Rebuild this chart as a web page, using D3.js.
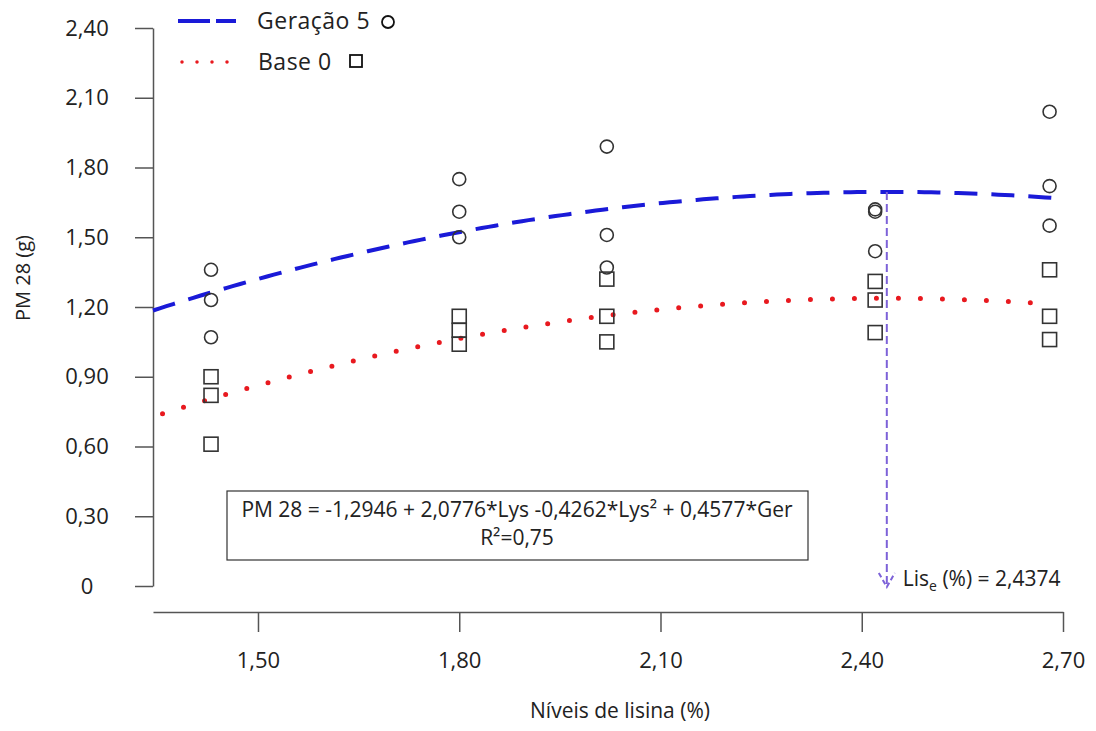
<!DOCTYPE html>
<html>
<head>
<meta charset="utf-8">
<script src="https://cdn.jsdelivr.net/npm/d3@7"></script>
<style>
  body { margin: 0; background: #fff; }
  svg { display: block; font-family: "Open Sans", sans-serif; }
</style>
</head>
<body>
<svg id="chart" width="1096" height="731"></svg>
<script>
"use strict";

const lysineLevels = [1.43, 1.80, 2.02, 2.42, 2.68];
const ger5Values = [[1.36, 1.23, 1.07], [1.75, 1.61, 1.50], [1.89, 1.51, 1.37], [1.62, 1.61, 1.44], [2.04, 1.72, 1.55]];
const base0Values = [[0.90, 0.82, 0.61], [1.16, 1.10, 1.04], [1.32, 1.16, 1.05], [1.31, 1.23, 1.09], [1.36, 1.16, 1.06]];

// fitted model printed in the box
const coefIntercept = -1.2946;
const coefLys = 2.0776;
const coefLys2 = -0.4262;
const coefGer = 0.4577;
const curveRange = [1.3435, 2.69];

const xTicks = [1.5, 1.8, 2.1, 2.4, 2.7];
const yTicks = [0, 0.3, 0.6, 0.9, 1.2, 1.5, 1.8, 2.1, 2.4];

const ptBR = d3.formatLocale({decimal: ",", thousands: ".", grouping: [3], currency: ["R$", ""]});
const fmt2 = ptBR.format(".2f");

const svg = d3.select("#chart");
const FONT = '"Open Sans", sans-serif';

const xScale = d3.scaleLinear().domain([1.3435, 2.7]).range([153, 1063]);
const yScale = d3.scaleLinear().domain([0, 2.4]).range([586, 28]);

function model(lys, ger) {
    return coefIntercept + coefLys * lys + coefLys2 * lys * lys + coefGer * ger;
}
const lysOptimum = -coefLys / (2 * coefLys2);

// axes
const xAxis = d3.axisBottom(xScale).tickValues(xTicks).tickFormat(fmt2)
    .tickSizeInner(20).tickSizeOuter(0);
const gx = svg.append("g").attr("transform", "translate(0,612)").call(xAxis)
    .attr("font-family", FONT).attr("font-size", 22);
gx.selectAll("path, line").attr("stroke", "#555").attr("stroke-width", 1.5);
gx.selectAll("text").attr("fill", "#222").attr("y", 48).attr("dy", "0.35em");

const yAxis = d3.axisLeft(yScale).tickValues(yTicks)
    .tickFormat(d => d === 0 ? "0" : fmt2(d))
    .tickSizeInner(18).tickSizeOuter(0);
const gy = svg.append("g").attr("transform", "translate(153,0)").call(yAxis)
    .attr("font-family", FONT).attr("font-size", 22);
gy.selectAll("path, line").attr("stroke", "#555").attr("stroke-width", 1.5);
gy.selectAll("text").attr("fill", "#222").attr("text-anchor", "middle").attr("x", -66);

// axis titles
svg.append("text").attr("x", 620).attr("y", 718).attr("text-anchor", "middle")
    .attr("fill", "#222").style("font-size", "21px").text("Níveis de lisina (%)");
svg.append("text").attr("transform", "translate(30,278) rotate(-90)")
    .attr("text-anchor", "middle").attr("fill", "#222").style("font-size", "20px")
    .text("PM 28 (g)");

// fitted curves
const curveXs = d3.range(curveRange[0], curveRange[1] + 0.0001, 0.01);
const line = d3.line().x(d => xScale(d[0])).y(d => yScale(d[1]));

svg.append("path")
    .attr("d", line(curveXs.map(l => [l, model(l, 0)])))
    .attr("fill", "none").attr("stroke", "#e8191f").attr("stroke-width", 5)
    .attr("stroke-linecap", "round").attr("stroke-dasharray", "0,22")
    .attr("stroke-dashoffset", -10);

svg.append("path")
    .attr("d", line(curveXs.map(l => [l, model(l, 1)])))
    .attr("fill", "none").attr("stroke", "#1a1ad8").attr("stroke-width", 4)
    .attr("stroke-dasharray", "23,14");

// optimum marker
const optX = xScale(lysOptimum);
const optTop = yScale(model(lysOptimum, 1));
const optBottom = yScale(0) + 1;
const purple = "#7d62d8";
svg.append("line").attr("x1", optX).attr("x2", optX).attr("y1", optTop).attr("y2", optBottom)
    .attr("stroke", purple).attr("stroke-width", 2).attr("stroke-dasharray", "8,4");
svg.append("path")
    .attr("d", `M${optX - 8},${optBottom - 14}L${optX},${optBottom}L${optX + 8},${optBottom - 14}`)
    .attr("fill", "none").attr("stroke", purple).attr("stroke-width", 2)
    .attr("stroke-dasharray", "5,3");

const optLabel = svg.append("text").attr("x", optX + 16).attr("y", 586)
    .attr("fill", "#222").style("font-size", "21px");
optLabel.append("tspan").text("Lis");
optLabel.append("tspan").attr("dy", 5).style("font-size", "14px").text("e");
optLabel.append("tspan").attr("dy", -5).text(" (%) = " + ptBR.format(".4f")(lysOptimum));

// observations
const markColor = "#333";
const ger5Points = lysineLevels.flatMap((l, i) => ger5Values[i].map(v => [l, v]));
const base0Points = lysineLevels.flatMap((l, i) => base0Values[i].map(v => [l, v]));

svg.append("g").selectAll("circle").data(ger5Points).join("circle")
    .attr("cx", d => xScale(d[0])).attr("cy", d => yScale(d[1])).attr("r", 6.5)
    .attr("fill", "none").attr("stroke", markColor).attr("stroke-width", 1.6);

svg.append("g").selectAll("rect").data(base0Points).join("rect")
    .attr("x", d => xScale(d[0]) - 7).attr("y", d => yScale(d[1]) - 7)
    .attr("width", 14).attr("height", 14)
    .attr("fill", "none").attr("stroke", markColor).attr("stroke-width", 1.6);

// equation box
svg.append("rect").attr("x", 227).attr("y", 491).attr("width", 581).attr("height", 69)
    .attr("fill", "#fff").attr("stroke", "#333").attr("stroke-width", 1.2);
svg.append("text").attr("x", 517).attr("y", 510).attr("dy", "0.35em")
    .attr("text-anchor", "middle").attr("fill", "#222").style("font-size", "21px")
    .text("PM 28 = -1,2946 + 2,0776*Lys -0,4262*Lys² + 0,4577*Ger");
svg.append("text").attr("x", 517).attr("y", 538).attr("dy", "0.35em")
    .attr("text-anchor", "middle").attr("fill", "#222").style("font-size", "21px")
    .text("R²=0,75");

// legend
const legend = svg.append("g");
legend.append("path").attr("d", "M178,21H236")
    .attr("stroke", "#1a1ad8").attr("stroke-width", 4).attr("stroke-dasharray", "32,6");
legend.append("path").attr("d", "M182,62H230")
    .attr("stroke", "#e8191f").attr("stroke-width", 3.5).attr("stroke-linecap", "round")
    .attr("stroke-dasharray", "0,15");
legend.append("text").attr("x", 257).attr("y", 21).attr("dy", "0.35em")
    .attr("fill", "#222").style("font-size", "23px").style("letter-spacing", "0.5px")
    .text("Geração 5");
legend.append("text").attr("x", 258).attr("y", 62).attr("dy", "0.35em")
    .attr("fill", "#222").style("font-size", "23px").style("letter-spacing", "0.5px")
    .text("Base 0");
legend.append("circle").attr("cx", 388).attr("cy", 22).attr("r", 6)
    .attr("fill", "none").attr("stroke", "#111").attr("stroke-width", 1.8);
legend.append("rect").attr("x", 350).attr("y", 55).attr("width", 12).attr("height", 12)
    .attr("fill", "none").attr("stroke", "#111").attr("stroke-width", 1.8);
</script>
</body>
</html>
